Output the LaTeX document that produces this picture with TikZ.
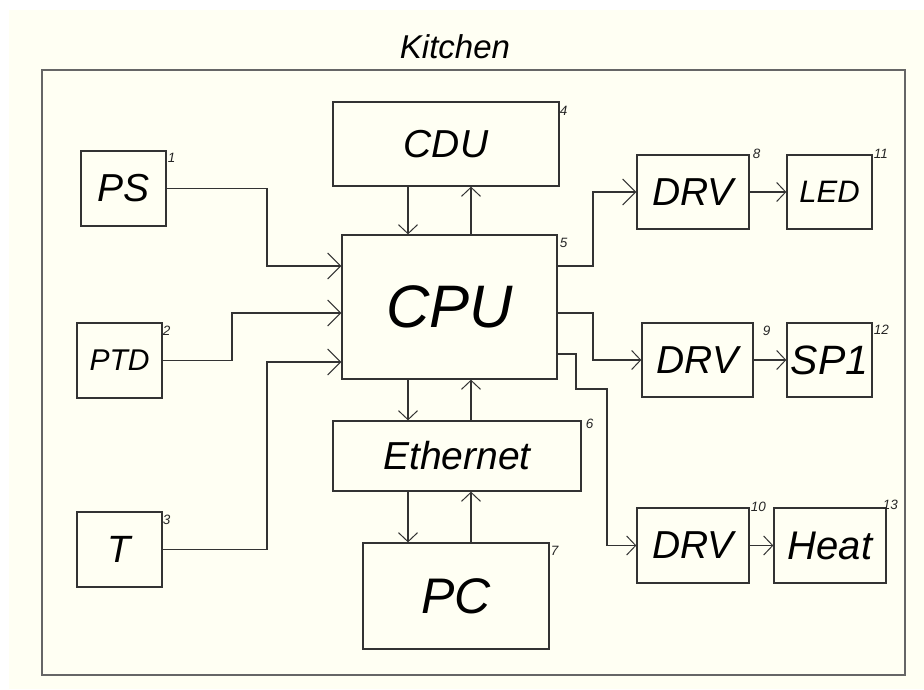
\documentclass[tikz,border=0pt]{standalone}
\usepackage{fontspec}
\setmainfont{Liberation Sans}
\usetikzlibrary{arrows.meta}
\definecolor{bgcream}{HTML}{FFFFF3}
\definecolor{boxline}{HTML}{333333}
\definecolor{frameline}{HTML}{666666}
\begin{document}
\begin{tikzpicture}[x=1pt,y=-1pt,
  blk/.style={draw=boxline, line width=1.3pt, inner sep=0pt, font=\itshape},
  num/.style={inner sep=0pt, font=\itshape\fontsize{13.5}{13.5}\selectfont, text=black!85},
  arr/.style={draw=boxline, line width=1.2pt, -{Straight Barb[length=9pt,width=19pt,line width=1pt]}},
  arrbig/.style={draw=boxline, line width=1.2pt, -{Straight Barb[length=13pt,width=26pt,line width=1pt]}}
]
\useasboundingbox (0,0) rectangle (924,689);
\fill[white] (0,0) rectangle (924,689);
\fill[bgcream] (9,10) rectangle (924,689);
\draw[frameline, line width=2pt] (42,70) rectangle (905,675);
\node[font=\itshape\fontsize{33}{33}\selectfont] (title) at (455,47) {Kitchen};

% blocks
\node[blk, minimum width=85pt, minimum height=75pt, font=\itshape\fontsize{39}{39}\selectfont] (ps) at (123.5,188.5) {PS};
\node[blk, minimum width=85pt, minimum height=75pt, font=\itshape\fontsize{30}{30}\selectfont] (ptd) at (119.5,360.5) {PTD};
\node[blk, minimum width=85pt, minimum height=75pt, font=\itshape\fontsize{38}{38}\selectfont] (t) at (119.5,549.5) {T};
\node[blk, minimum width=226pt, minimum height=84pt, font=\itshape\fontsize{39}{39}\selectfont] (cdu) at (446,144) {CDU};
\node[blk, minimum width=215pt, minimum height=144pt, font=\itshape\fontsize{60}{60}\selectfont] (cpu) at (449.5,307) {CPU};
\node[blk, minimum width=248pt, minimum height=70pt, font=\itshape\fontsize{39}{39}\selectfont] (eth) at (457,456) {Ethernet};
\node[blk, minimum width=186pt, minimum height=106pt, font=\itshape\fontsize{50}{50}\selectfont] (pc) at (456,596) {PC};
\node[blk, minimum width=112pt, minimum height=74pt, font=\itshape\fontsize{39}{39}\selectfont] (drva) at (693,192) {DRV};
\node[blk, minimum width=85pt, minimum height=74pt, font=\itshape\fontsize{31}{31}\selectfont] (led) at (829.5,192) {LED};
\node[blk, minimum width=111pt, minimum height=74pt, font=\itshape\fontsize{39}{39}\selectfont] (drvb) at (697.5,360) {DRV};
\node[blk, minimum width=85pt, minimum height=74pt, font=\itshape\fontsize{41}{41}\selectfont] (sp) at (829.5,360) {SP1};
\node[blk, minimum width=112pt, minimum height=75pt, font=\itshape\fontsize{39}{39}\selectfont] (drvc) at (693,545.5) {DRV};
\node[blk, minimum width=112pt, minimum height=75pt, font=\itshape\fontsize{40}{40}\selectfont] (heat) at (830,545.5) {Heat};

% numbers
\node[num, anchor=north west] (n1) at ([shift={(1,3)}]ps.north east) {1};
\node[num, anchor=north west] (n2) at ([shift={(0,4)}]ptd.north east) {2};
\node[num, anchor=north west] (n3) at ([shift={(0,4)}]t.north east) {3};
\node[num, anchor=north west] (n4) at ([shift={(0,5)}]cdu.north east) {4};
\node[num, anchor=north west] (n5) at ([shift={(2,4)}]cpu.north east) {5};
\node[num, anchor=north west] (n6) at ([shift={(4,-1)}]eth.north east) {6};
\node[num, anchor=north west] (n7) at ([shift={(1,4)}]pc.north east) {7};
\node[num, anchor=north west] (n8) at ([shift={(3,-5)}]drva.north east) {8};
\node[num, anchor=north west] (n9) at ([shift={(9,4)}]drvb.north east) {9};
\node[num, anchor=north west] (n10) at ([shift={(1,-5)}]drvc.north east) {10};
\node[num, anchor=north west] (n11) at ([shift={(1,-5)}]led.north east) {11};
\node[num, anchor=north west] (n12) at ([shift={(1,3)}]sp.north east) {12};
\node[num, anchor=north west] (n13) at ([shift={(-4,-7)}]heat.north east) {13};

% inputs to CPU
\draw[arrbig] (ps.east) -| (267,266) -- (cpu.west |- 0,266);
\draw[arrbig] (ptd.east) -| (232,313) -- (cpu.west |- 0,313);
\draw[arrbig] (t.east) -| (267,362) -- (cpu.west |- 0,362);

% CDU <-> CPU
\draw[arr] (cdu.south -| 408,0) -- (cpu.north -| 408,0);
\draw[arr] (cpu.north -| 471,0) -- (cdu.south -| 471,0);
% CPU <-> Ethernet
\draw[arr] (cpu.south -| 408,0) -- (eth.north -| 408,0);
\draw[arr] (eth.north -| 471,0) -- (cpu.south -| 471,0);
% Ethernet <-> PC
\draw[arr] (eth.south -| 408,0) -- (pc.north -| 408,0);
\draw[arr] (pc.north -| 471,0) -- (eth.south -| 471,0);

% CPU outputs to drivers
\draw[arrbig] (cpu.east |- 0,266) -| (593,192) -- (drva.west);
\draw[arr] (cpu.east |- 0,313) -| (593,360) -- (drvb.west);
\draw[arr] (cpu.east |- 0,354) -| (576,389) -| (607,545.5) -- (drvc.west);

% drivers to loads
\draw[arr] (drva.east) -- (led.west);
\draw[arr] (drvb.east) -- (sp.west);
\draw[arr] (drvc.east) -- (heat.west);
\end{tikzpicture}
\end{document}
